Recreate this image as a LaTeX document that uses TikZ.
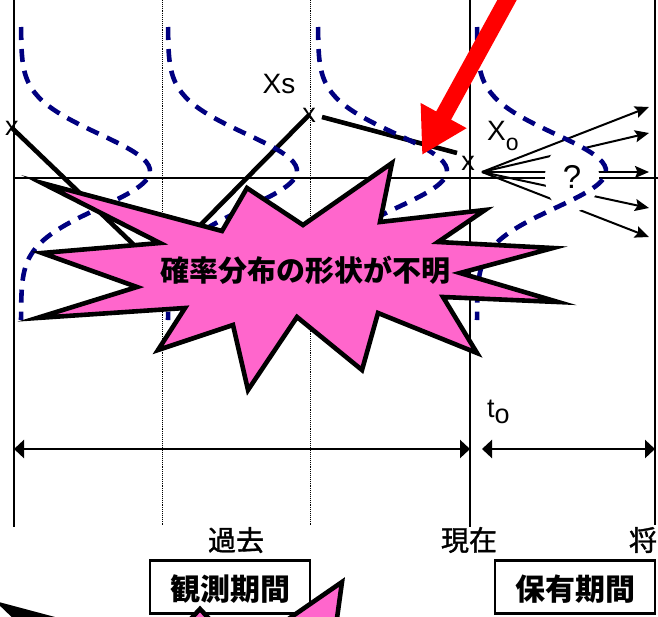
\documentclass[tikz,border=0pt]{standalone}
\usepackage{fontspec}
\setmainfont{Liberation Sans}
\newfontfamily\jp{Noto Sans CJK JP}
\newfontfamily\jpm{Noto Sans CJK JP}[FakeBold=1.3]
\usetikzlibrary{arrows.meta,shapes.geometric,calc}
\definecolor{navyc}{HTML}{000080}
\definecolor{pinkc}{HTML}{FF66CC}
\begin{document}
\begin{tikzpicture}[x=1pt,y=-1pt,
  dist/.style={navyc, line width=4.6pt, dash pattern=on 13pt off 9pt},
  pathln/.style={line width=4.6pt},
  axisln/.style={line width=2.3pt},
  dotln/.style={line width=0.9pt, densely dotted},
  fan/.style={line width=2pt, -{Stealth[length=14pt,width=12pt,inset=2.5pt]}},
  spanar/.style={line width=2.8pt, {Triangle[length=10pt,width=18pt]}-{Triangle[length=10pt,width=18pt]}},
  xmk/.style={inner sep=0pt, font=\fontsize{27}{27}\selectfont},
  lbl/.style={inner sep=0pt, font=\fontsize{28}{28}\selectfont},
  jlbl/.style={inner sep=0pt, font=\jpm\fontsize{28}{28}\selectfont},
  boxj/.style={draw, line width=2.3pt, minimum width=160pt, minimum height=53pt, inner sep=0pt},
  boxtxt/.style={inner sep=0pt, font=\jp\bfseries\fontsize{30}{30}\selectfont},
  burst/.style={fill=pinkc, draw=black, line width=4.6pt, line join=miter},
]
\useasboundingbox (0,0) rectangle (658,616);
\clip (0,0) rectangle (658,616);
\fill[white] (0,0) rectangle (658,616);

% grid lines
\draw[dotln] (162,0) -- (162,525);
\draw[dotln] (310,0) -- (310,525);
\draw[line width=2.8pt] (14,0) -- (14,527);
\draw[axisln] (470,0) -- (470,527);
\draw[axisln] (655,0) -- (655,525);
\draw[axisln] (14,178) -- (658,178);

% markers and price path
\node[xmk] (m1) at (12,128) {x};
\node[xmk] (m2) at (309,115) {x};
\node[xmk] (m3) at (468,163) {x};
\coordinate (m0) at (158,268);
\draw[pathln] (m1.center) -- (m0) -- (m2.center);
\draw[pathln] ($(m2.center)+(13,2)$) -- ($(m3.center)+(-11,-10)$);

% fan of future paths
\coordinate (fo) at (482,172);
\coordinate (f1) at (649,107);
\coordinate (f2) at (649,133);
\coordinate (f3) at (649,172);
\coordinate (f4) at (649,208);
\coordinate (f5) at (649,237);
\foreach \t in {f1,f2,f3,f4,f5} \draw[fan] (fo) -- (\t);
\node[ellipse, fill=white, inner sep=0pt, minimum width=54pt, minimum height=70pt, font=\fontsize{33}{33}\selectfont] (q) at (572,177) {?};

% distributions
\foreach \xb in {21,168,318,477}
  \draw[dist] plot[domain=27:320, samples=90, smooth, variable=\s] ({\xb+129*exp(-0.5*((\s-171)/37)^2)}, {\s});

% labels
\node[lbl] (xs) at (279,84) {Xs};
\node[lbl, anchor=base west] (xo) at (487,140) {X\raisebox{-10pt}{\fontsize{23}{23}\selectfont o}};
\node[lbl, anchor=base west, font=\fontsize{27}{27}\selectfont] (to) at (487,417) {t\raisebox{-6pt}{o}};

% spans
\coordinate (sL) at (14,449);
\coordinate (sM) at (470,449);
\coordinate (sR1) at (482,449);
\coordinate (sR2) at (655,449);
\draw[spanar] (sL) -- (sM);
\draw[spanar] (sR1) -- (sR2);

\node[jlbl] (past) at (236,540) {過去};
\node[jlbl] (now) at (469,540) {現在};
\node[jlbl] (fut) at (643,540) {将};

\node[boxj] (obs) at (230,587) {};
\node[boxtxt] at ($(obs.center)+(0,2)$) {観測期間};
\node[boxj] (hold) at (575,587) {};
\node[boxtxt] at ($(hold.center)+(0,2)$) {保有期間};

% starburst
\draw[burst] (42,183) -- (222,231) -- (247,188) -- (303,225) -- (392,163) -- (380,222) -- (485,210) -- (438,242) -- (553,248) -- (460,273) -- (558,302) -- (443,297) -- (477,353) -- (378,313) -- (362,370) -- (297,317) -- (248,390) -- (233,325) -- (158,350) -- (185,308) -- (37,318) -- (137,287) -- (42,253) -- (160,243) -- cycle;
\node[inner sep=0pt, font=\jp\bfseries\fontsize{29}{29}\selectfont] (unk) at (305,270) {確率分布の形状が不明};

% partial shapes at the bottom edge
\draw[burst] (342,582) -- (334,640) -- (258,640) -- cycle;
\draw[burst] (200,609) -- (215,625) -- (185,625) -- cycle;
\fill[black] (-5,601) -- (55,617) -- (20,625) -- cycle;

% red arrow
\coordinate (rs) at (518,-20);
\coordinate (rt) at (422,155);
\draw[red, line width=17pt, -{Triangle[length=45pt,width=49pt]}] (rs) -- (rt);
\end{tikzpicture}
\end{document}
